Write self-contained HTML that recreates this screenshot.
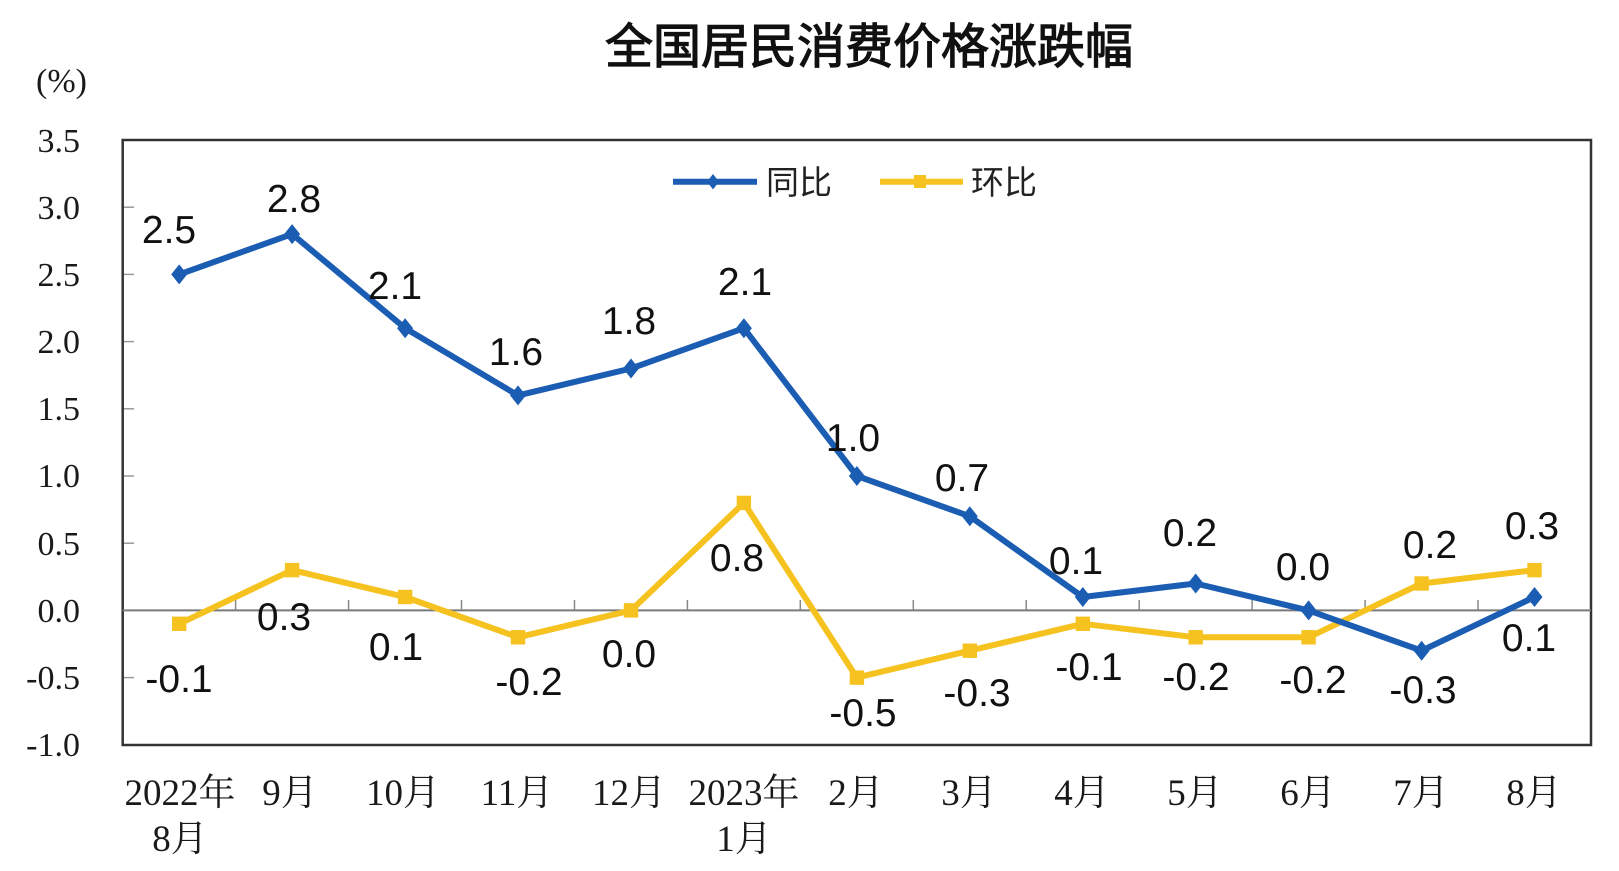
<!DOCTYPE html>
<html>
<head>
<meta charset="utf-8">
<style>
html,body{margin:0;padding:0;background:#fff;}
svg{display:block;}
.yl{font-family:"Liberation Serif","Noto Serif CJK SC",serif;font-size:34px;fill:#1a1a1a;}
.xl{font-family:"Liberation Serif","Noto Serif CJK SC",serif;font-size:37px;fill:#1a1a1a;}
.dl{font-family:"Liberation Sans","Noto Sans CJK SC",sans-serif;font-size:39px;fill:#111;}
.tt{font-family:"Liberation Sans","Noto Sans CJK SC",sans-serif;font-size:48px;font-weight:normal;fill:#111;stroke:#111;stroke-width:1.2px;}
.lg{font-family:"Liberation Sans","Noto Sans CJK SC",sans-serif;font-size:33px;fill:#222;}
</style>
</head>
<body>
<svg width="1619" height="871" viewBox="0 0 1619 871" xmlns="http://www.w3.org/2000/svg">
<rect x="0" y="0" width="1619" height="871" fill="#fff"/>
<!-- title -->
<text class="tt" x="869" y="63" text-anchor="middle">全国居民消费价格涨跌幅</text>
<text class="yl" x="36" y="92">(%)</text>

<!-- frame -->
<rect x="122.7" y="140" width="1468.3" height="605" fill="#fff" stroke="#333" stroke-width="2.5"/>

<!-- y ticks -->
<g stroke="#999" stroke-width="1.5">
<line x1="124" y1="207.2" x2="134" y2="207.2"/>
<line x1="124" y1="274.4" x2="134" y2="274.4"/>
<line x1="124" y1="341.6" x2="134" y2="341.6"/>
<line x1="124" y1="408.8" x2="134" y2="408.8"/>
<line x1="124" y1="476" x2="134" y2="476"/>
<line x1="124" y1="543.2" x2="134" y2="543.2"/>
<line x1="124" y1="677.6" x2="134" y2="677.6"/>
</g>

<!-- y labels -->
<g class="yl" text-anchor="end">
<text x="80" y="152">3.5</text>
<text x="80" y="219">3.0</text>
<text x="80" y="286">2.5</text>
<text x="80" y="353">2.0</text>
<text x="80" y="420">1.5</text>
<text x="80" y="487">1.0</text>
<text x="80" y="555">0.5</text>
<text x="80" y="622">0.0</text>
<text x="80" y="689">-0.5</text>
<text x="80" y="756">-1.0</text>
</g>

<!-- zero line -->
<line x1="122.7" y1="610.4" x2="1591" y2="610.4" stroke="#7a7a7a" stroke-width="2"/>
<g stroke="#888" stroke-width="1.5">
<line x1="235.6" y1="600" x2="235.6" y2="610"/>
<line x1="348.6" y1="600" x2="348.6" y2="610"/>
<line x1="461.5" y1="600" x2="461.5" y2="610"/>
<line x1="574.5" y1="600" x2="574.5" y2="610"/>
<line x1="687.4" y1="600" x2="687.4" y2="610"/>
<line x1="800.3" y1="600" x2="800.3" y2="610"/>
<line x1="913.3" y1="600" x2="913.3" y2="610"/>
<line x1="1026.2" y1="600" x2="1026.2" y2="610"/>
<line x1="1139.2" y1="600" x2="1139.2" y2="610"/>
<line x1="1252.1" y1="600" x2="1252.1" y2="610"/>
<line x1="1365.1" y1="600" x2="1365.1" y2="610"/>
<line x1="1478" y1="600" x2="1478" y2="610"/>
</g>

<!-- yellow series -->
<polyline fill="none" stroke="#f5c21f" stroke-width="6" stroke-linejoin="round"
points="179.2,623.8 292.1,570.1 405.1,597 518,637.3 631,610.4 743.9,502.9 856.9,677.6 969.8,650.7 1082.8,623.8 1195.7,637.3 1308.6,637.3 1421.6,583.5 1534.5,570.1"/>
<g fill="#f5c21f">
<rect x="172" y="616.6" width="14.4" height="14.4"/>
<rect x="284.9" y="562.9" width="14.4" height="14.4"/>
<rect x="397.9" y="589.8" width="14.4" height="14.4"/>
<rect x="510.8" y="630.1" width="14.4" height="14.4"/>
<rect x="623.8" y="603.2" width="14.4" height="14.4"/>
<rect x="736.7" y="495.7" width="14.4" height="14.4"/>
<rect x="849.7" y="670.4" width="14.4" height="14.4"/>
<rect x="962.6" y="643.5" width="14.4" height="14.4"/>
<rect x="1075.6" y="616.6" width="14.4" height="14.4"/>
<rect x="1188.5" y="630.1" width="14.4" height="14.4"/>
<rect x="1301.4" y="630.1" width="14.4" height="14.4"/>
<rect x="1414.4" y="576.3" width="14.4" height="14.4"/>
<rect x="1527.3" y="562.9" width="14.4" height="14.4"/>
</g>

<!-- blue series -->
<polyline fill="none" stroke="#1b5db3" stroke-width="6" stroke-linejoin="round"
points="179.2,274.4 292.1,234.1 405.1,328.2 518,395.4 631,368.5 743.9,328.2 856.9,476 969.8,516.3 1082.8,597 1195.7,583.5 1308.6,610.4 1421.6,650.7 1534.5,597"/>
<g fill="#1b5db3">
<polygon points="179.2,264.4 187.2,274.4 179.2,284.4 171.2,274.4"/>
<polygon points="292.1,224.1 300.1,234.1 292.1,244.1 284.1,234.1"/>
<polygon points="405.1,318.2 413.1,328.2 405.1,338.2 397.1,328.2"/>
<polygon points="518,385.4 526,395.4 518,405.4 510,395.4"/>
<polygon points="631,358.5 639,368.5 631,378.5 623,368.5"/>
<polygon points="743.9,318.2 751.9,328.2 743.9,338.2 735.9,328.2"/>
<polygon points="856.9,466 864.9,476 856.9,486 848.9,476"/>
<polygon points="969.8,506.3 977.8,516.3 969.8,526.3 961.8,516.3"/>
<polygon points="1082.8,587 1090.8,597 1082.8,607 1074.8,597"/>
<polygon points="1195.7,573.5 1203.7,583.5 1195.7,593.5 1187.7,583.5"/>
<polygon points="1308.6,600.4 1316.6,610.4 1308.6,620.4 1300.6,610.4"/>
<polygon points="1421.6,640.7 1429.6,650.7 1421.6,660.7 1413.6,650.7"/>
<polygon points="1534.5,587 1542.5,597 1534.5,607 1526.5,597"/>
</g>

<!-- legend -->
<line x1="673" y1="181.7" x2="757" y2="181.7" stroke="#1b5db3" stroke-width="6"/>
<polygon points="713,174 719,181.7 713,189.4 707,181.7" fill="#1b5db3"/>
<text class="lg" x="766" y="194">同比</text>
<line x1="880" y1="181.7" x2="963" y2="181.7" stroke="#f5c21f" stroke-width="6"/>
<rect x="914" y="175" width="12" height="13" fill="#f5c21f"/>
<text class="lg" x="971" y="194">环比</text>

<!-- data labels -->
<g class="dl" text-anchor="middle">
<text x="169" y="243">2.5</text>
<text x="294" y="212">2.8</text>
<text x="395" y="299">2.1</text>
<text x="516" y="365">1.6</text>
<text x="629" y="334">1.8</text>
<text x="745" y="295">2.1</text>
<text x="853" y="451">1.0</text>
<text x="962" y="491">0.7</text>
<text x="1076" y="574">0.1</text>
<text x="1190" y="546">0.2</text>
<text x="1303" y="580">0.0</text>
<text x="1423" y="703">-0.3</text>
<text x="1529" y="651">0.1</text>
</g>
<g class="dl" text-anchor="middle">
<text x="179" y="692">-0.1</text>
<text x="284" y="630">0.3</text>
<text x="396" y="660">0.1</text>
<text x="529" y="695">-0.2</text>
<text x="629" y="667">0.0</text>
<text x="737" y="571">0.8</text>
<text x="863" y="726">-0.5</text>
<text x="977" y="706">-0.3</text>
<text x="1089" y="680">-0.1</text>
<text x="1196" y="690">-0.2</text>
<text x="1313" y="693">-0.2</text>
<text x="1430" y="558">0.2</text>
<text x="1532" y="539">0.3</text>
</g>

<!-- x labels -->
<g class="xl" text-anchor="middle">
<text x="180" y="805">2022年</text>
<text x="180" y="851">8月</text>
<text x="290" y="805">9月</text>
<text x="403" y="805">10月</text>
<text x="517" y="805">11月</text>
<text x="629" y="805">12月</text>
<text x="744" y="805">2023年</text>
<text x="744" y="851">1月</text>
<text x="856" y="805">2月</text>
<text x="969" y="805">3月</text>
<text x="1082" y="805">4月</text>
<text x="1195" y="805">5月</text>
<text x="1308" y="805">6月</text>
<text x="1421" y="805">7月</text>
<text x="1534" y="805">8月</text>
</g>
</svg>
</body>
</html>
